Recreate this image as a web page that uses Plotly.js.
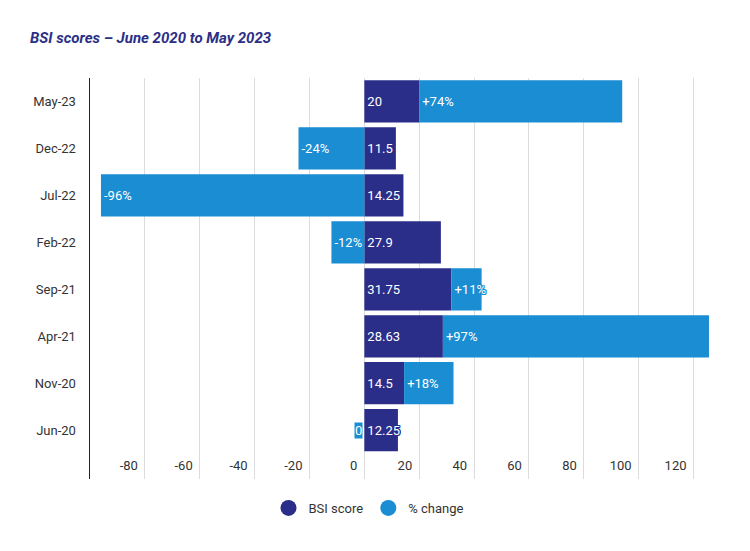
<!DOCTYPE html>
<html>
<head>
<meta charset="utf-8">
<script src="https://cdn.plot.ly/plotly-3.0.1.min.js"></script>
<style>html,body{margin:0;padding:0;background:#fff;}#chart{width:750px;height:551px;}</style>
</head>
<body>
<div id="chart"></div>
<script>
const categories = ["Jun-20", "Nov-20", "Apr-21", "Sep-21", "Feb-22", "Jul-22", "Dec-22", "May-23"];
const bsiScore = [12.25, 14.5, 28.63, 31.75, 27.9, 14.25, 11.5, 20];
const pctChange = [0, 18, 97, 11, -12, -96, -24, 74];
const xTicks = [-80, -60, -40, -20, 0, 20, 40, 60, 80, 100, 120];

const DARK = '#2b2e89';
const LIGHT = '#1a8dd3';

function pctLabel(v) { return v > 0 ? '+' + v + '%' : (v < 0 ? v + '%' : '0'); }
function halo(c) {
  return `1px 0 0 ${c}, -1px 0 0 ${c}, 0 1px 0 ${c}, 0 -1px 0 ${c}, 1px 1px 0 ${c}, -1px -1px 0 ${c}, 1px -1px 0 ${c}, -1px 1px 0 ${c}`;
}

const posIdx = pctChange.map((v, i) => i).filter(i => pctChange[i] > 0);
const negIdx = pctChange.map((v, i) => i).filter(i => pctChange[i] < 0);
const zeroIdx = pctChange.map((v, i) => i).filter(i => pctChange[i] === 0);

const labelFont = (c) => ({family: 'Roboto, sans-serif', size: 13, color: '#ffffff', shadow: halo(c)});

const traces = [
  {
    type: 'bar', orientation: 'h', name: 'BSI score', showlegend: false,
    y: categories, x: bsiScore,
    text: bsiScore.map(String),
    textposition: 'inside', insidetextanchor: 'start', constraintext: 'none', textangle: 0,
    textfont: labelFont(DARK),
    marker: {color: DARK, line: {width: 0}}
  },
  {
    type: 'bar', orientation: 'h', name: '% change', showlegend: false,
    y: posIdx.map(i => categories[i]), x: posIdx.map(i => pctChange[i]),
    text: posIdx.map(i => pctLabel(pctChange[i])),
    textposition: 'inside', insidetextanchor: 'start', constraintext: 'none', textangle: 0,
    textfont: labelFont(LIGHT),
    marker: {color: LIGHT, line: {width: 0}}
  },
  {
    type: 'bar', orientation: 'h', name: '% change', showlegend: false,
    y: negIdx.concat(zeroIdx).map(i => categories[i]), x: negIdx.concat(zeroIdx).map(i => pctChange[i]),
    text: negIdx.map(i => pctLabel(pctChange[i])).concat(zeroIdx.map(() => '')),
    textposition: 'inside', insidetextanchor: 'end', constraintext: 'none', textangle: 0,
    textfont: labelFont(LIGHT),
    marker: {color: LIGHT, line: {width: 0}}
  },
  {
    type: 'scatter', mode: 'markers', name: 'BSI score', x: [null], y: [null],
    marker: {symbol: 'circle', size: 17, color: DARK}, showlegend: true
  },
  {
    type: 'scatter', mode: 'markers', name: '% change', x: [null], y: [null],
    marker: {symbol: 'circle', size: 17, color: LIGHT}, showlegend: true
  }
];

const annotations = zeroIdx.map(i => ({
  x: pctChange[i], y: categories[i], xref: 'x', yref: 'y',
  text: pctLabel(pctChange[i]), showarrow: false,
  xanchor: 'right', yanchor: 'middle', xshift: -1,
  bgcolor: LIGHT, borderpad: 0,
  font: {family: 'Roboto, sans-serif', size: 13, color: '#ffffff'}
}));

const layout = {
  width: 750, height: 551,
  margin: {l: 90, r: 40, t: 77.5, b: 72},
  paper_bgcolor: '#ffffff', plot_bgcolor: '#ffffff',
  font: {family: 'Roboto, sans-serif', size: 13, color: '#333333'},
  title: {
    text: 'BSI scores – June 2020 to May 2023',
    x: 30 / 750, xref: 'container', xanchor: 'left',
    y: 1 - 38 / 551, yref: 'container', yanchor: 'middle',
    font: {family: 'Roboto, sans-serif', size: 15, color: '#2b2f86', weight: 700, style: 'italic'}
  },
  barmode: 'relative',
  bargap: 0.1,
  xaxis: {
    range: [-100, 126],
    tickmode: 'array', tickvals: xTicks, ticktext: xTicks.map(String),
    showgrid: true, gridcolor: '#dcdcdc', gridwidth: 1,
    zeroline: false, showline: false, ticks: '',
    ticklabelposition: 'inside left', ticklabelshift: -7,
    tickfont: {family: 'Roboto, sans-serif', size: 13, color: '#333333'},
    fixedrange: true
  },
  yaxis: {
    type: 'category', categoryorder: 'array', categoryarray: categories,
    range: [-1.04, 7.5],
    showgrid: false, zeroline: false,
    showline: true, linecolor: '#222222', linewidth: 1.5,
    ticks: '', ticklabelstandoff: 10,
    tickfont: {family: 'Roboto, sans-serif', size: 13, color: '#333333'},
    fixedrange: true
  },
  annotations: annotations,
  legend: {
    orientation: 'h', xref: 'container', x: 369 / 750, xanchor: 'center',
    yref: 'container', y: 1 - 508 / 551, yanchor: 'middle',
    font: {family: 'Roboto, sans-serif', size: 13, color: '#333333'},
    itemclick: false, itemdoubleclick: false
  },
  showlegend: true
};

Plotly.newPlot('chart', traces, layout, {displayModeBar: false, staticPlot: true});
</script>
</body>
</html>
